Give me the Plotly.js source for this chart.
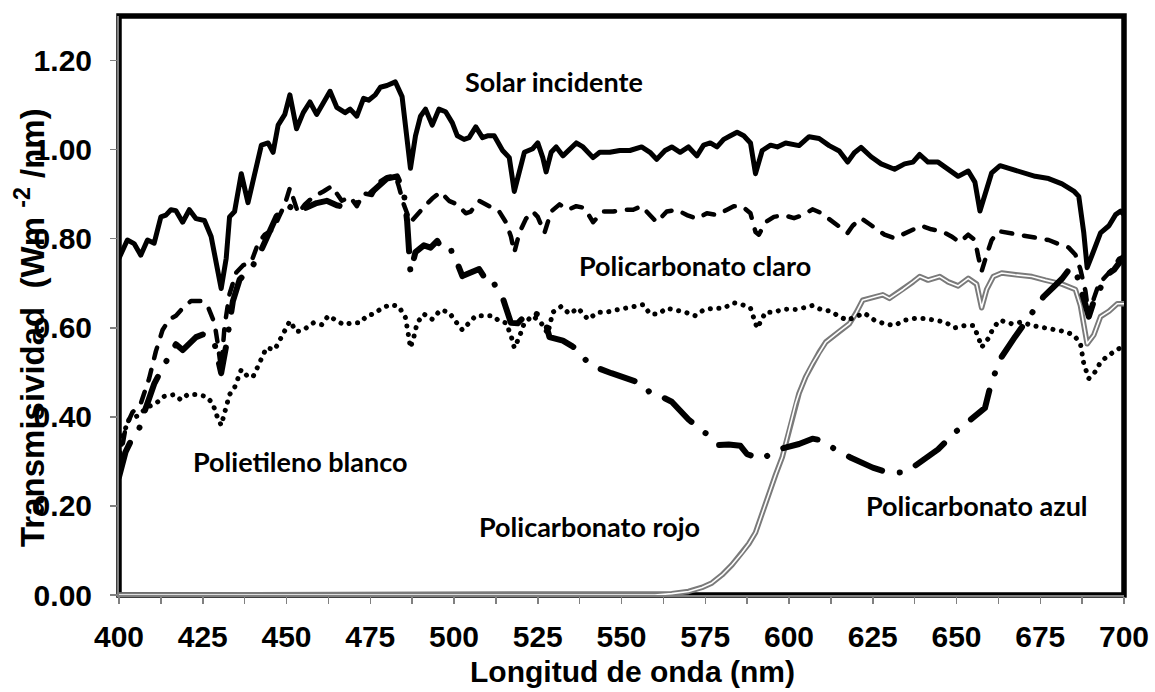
<!DOCTYPE html>
<html>
<head>
<meta charset="utf-8">
<script src="https://cdn.plot.ly/plotly-3.0.1.min.js"></script>
<style>
html,body{margin:0;padding:0;background:#fff;}
#chart{width:1155px;height:692px;}
</style>
</head>
<body>
<div id="chart"></div>
<script>
// ---- Data (wavelength nm, value) ----
const solarWl = [400,402.5,404.5,406.5,408.5,410.5,412.5,414,415.5,417,419,421,423,425.5,427.5,429,430.5,432,433,434.5,436.5,438.5,440.5,442.5,444.5,446,447.5,449.5,451,453,455,457,459,461,463,465,467.5,469,471,473,474.5,476.5,478,480,482.5,484.5,485.5,487,488.5,490,491.5,493.5,495.5,497.5,499.5,501,503,504.5,506.5,508.5,510,512,514.5,516.5,518,519.5,521,523.5,525,526.5,527.5,529,530.5,532.5,534.5,536.5,538.5,541.5,543.5,546.5,549.5,552.5,556,558.5,560.5,563,565,567.5,570,572.5,574.5,576.5,578.5,580.5,582.5,584.5,586.5,588.5,590,592,594.5,596.5,599,603,606,609,612,615,617.5,619.5,621.5,624.5,627.5,631.5,634.5,637,639,641.5,644.5,647.5,650.5,653.5,655.5,657,659,660.5,663,666.5,670.5,673.5,677.5,681.5,685,686.5,688,689,690.5,693,695.5,697.5,699,700];
const solarVal = [0.756,0.797,0.789,0.763,0.797,0.79,0.849,0.853,0.865,0.863,0.837,0.865,0.845,0.841,0.805,0.74,0.688,0.756,0.849,0.861,0.946,0.881,0.942,1.01,1.015,0.994,1.055,1.079,1.123,1.047,1.083,1.107,1.079,1.107,1.131,1.095,1.083,1.091,1.075,1.115,1.111,1.123,1.14,1.144,1.152,1.119,1.063,0.958,1.031,1.075,1.091,1.055,1.091,1.085,1.06,1.031,1.023,1.027,1.051,1.027,1.031,1.031,0.998,0.982,0.906,0.95,0.994,1.002,1.015,0.982,0.95,0.994,1.006,0.986,1.002,1.015,1.006,0.982,0.994,0.994,0.998,0.998,1.006,0.994,0.978,0.998,1.006,0.994,1.006,0.986,1.01,1.015,1.006,1.023,1.031,1.039,1.031,1.015,0.946,0.998,1.01,1.006,1.015,1.009,1.029,1.025,1.009,0.997,0.972,0.993,1.005,0.984,0.968,0.956,0.968,0.972,0.989,0.972,0.972,0.956,0.94,0.952,0.927,0.862,0.911,0.948,0.964,0.956,0.948,0.94,0.935,0.923,0.907,0.895,0.813,0.735,0.764,0.813,0.829,0.854,0.862,0.854];

const claroWl = [400,402,404,406.5,409,411,413,415,417,419,421.5,424.5,426.5,428.5,429.5,430.5,431.5,433,435,437,439.5,441.5,443.5,446,448,449.5,451,453.5,455.5,458,461,463.5,466.5,469,471,473,475.5,477.5,480,482.5,483.5,485,487,489.5,491.5,493.5,496,498.5,501,503.5,505,507.5,509.5,511.5,513.5,515.5,517,518,519.5,521.5,523.5,525,527,529,531.5,534,536.5,539,541.5,544.5,547.5,550.5,553.5,556,558.5,560.5,563.5,566.5,569.5,572.5,575.5,578.5,581.5,583.5,586,588.5,590,591,593,595.5,598.5,601.5,604.5,607,609.5,612.5,615,617.5,619,621.5,624,626.5,628.5,631.5,634,637,639.5,642.5,645.5,648.5,651,653.5,655.5,656.5,657.5,659,660.5,662.5,665.5,668.5,671.5,674.5,677.5,680.5,683.5,685.5,687,688.5,689.5,691,692.5,694.5,697,698.5,700];
const claroVal = [0.29,0.377,0.41,0.43,0.486,0.547,0.595,0.619,0.627,0.644,0.66,0.66,0.648,0.611,0.563,0.506,0.603,0.676,0.724,0.74,0.748,0.789,0.809,0.821,0.853,0.877,0.914,0.857,0.877,0.894,0.906,0.918,0.885,0.894,0.873,0.902,0.898,0.926,0.938,0.942,0.918,0.877,0.837,0.86,0.875,0.89,0.905,0.885,0.877,0.857,0.861,0.885,0.877,0.869,0.861,0.837,0.805,0.769,0.813,0.845,0.861,0.849,0.813,0.861,0.877,0.865,0.873,0.869,0.837,0.861,0.861,0.865,0.865,0.873,0.853,0.837,0.861,0.865,0.853,0.845,0.857,0.853,0.865,0.873,0.873,0.857,0.815,0.809,0.837,0.849,0.853,0.846,0.854,0.866,0.858,0.842,0.829,0.813,0.829,0.846,0.833,0.821,0.809,0.801,0.809,0.821,0.829,0.821,0.817,0.805,0.792,0.809,0.797,0.76,0.727,0.764,0.797,0.817,0.813,0.809,0.806,0.801,0.797,0.788,0.78,0.764,0.731,0.682,0.625,0.666,0.699,0.715,0.735,0.755,0.76];

const blancoWl = [400,401,403,405.5,408.5,411,413.5,416.5,418.5,420.5,423,426,428,429,430.5,432,433,434.5,436.5,438.5,440,441.5,444,446.5,448,449.5,451,453,455,458,460.5,462.5,464.5,467,469.5,472,474,476,478.5,481,483.5,485.5,486.5,487,488,489,491,493.5,496,498.5,500,502.5,504.5,506.5,509,511.5,513.5,515.5,517,518,519.5,521,523.5,526,528,529.5,532,534.5,537,540,543,545.5,548.5,551.5,554,556.5,558.5,561,563.5,566.5,569,572,574.5,577.5,580.5,583.5,586,588.5,589.5,590.5,593,595.5,598.5,602,604.5,607,609.5,612.5,615,617.5,620,622.5,625.5,628.5,631.5,634.5,637.5,640.5,643.5,646.5,649.5,652.5,655,656.5,657.5,659.5,661,663,666.5,669.5,672.5,676,679,682,685,687,688,689.5,691.5,693,695.5,698,700];
const blancoVal = [0.30,0.357,0.394,0.402,0.422,0.43,0.446,0.45,0.438,0.45,0.45,0.446,0.43,0.406,0.381,0.426,0.45,0.466,0.506,0.49,0.49,0.514,0.555,0.551,0.571,0.591,0.615,0.591,0.595,0.611,0.607,0.627,0.619,0.607,0.611,0.611,0.627,0.631,0.644,0.652,0.648,0.623,0.579,0.555,0.579,0.611,0.631,0.619,0.64,0.635,0.619,0.595,0.611,0.627,0.627,0.627,0.615,0.611,0.583,0.555,0.579,0.611,0.627,0.611,0.587,0.635,0.648,0.631,0.644,0.619,0.635,0.635,0.64,0.644,0.648,0.652,0.631,0.631,0.644,0.64,0.635,0.627,0.64,0.644,0.644,0.656,0.652,0.644,0.623,0.599,0.635,0.635,0.642,0.641,0.645,0.65,0.641,0.637,0.625,0.617,0.625,0.633,0.617,0.609,0.605,0.617,0.621,0.621,0.617,0.613,0.6,0.605,0.605,0.58,0.556,0.576,0.6,0.617,0.609,0.613,0.605,0.6,0.596,0.592,0.584,0.564,0.519,0.486,0.502,0.523,0.539,0.551,0.56];

const azulWl = [400,402,404,406,408,410.5,413,415,417,419,421,423,425,427,428.5,429.5,430.5,432,434,436,438,440,442.5,444.5,447,450.5,453,456,459,462,465,468,471,474,477,480,483,485,486,487,488.5,491,493,495,497,499.5,502.5,507.5,509.5,511,512.5,514.5,517,519,521,523,525,527,528.5,532.5,535,537,539,541,547,553.5,556,559,562,565,570,575.5,579,582,585.5,587.5,592,596,599,603,607,610,612,618.5,625,630,635,638.5,644.5,650,655,657,658.5,660.5,663.5,667.5,671.5,676,681.5,684,685.5,687,688.5,689.5,691,693,695,697,699,700];
const azulVal = [0.265,0.322,0.353,0.373,0.42,0.474,0.51,0.535,0.563,0.55,0.565,0.579,0.585,0.58,0.565,0.53,0.498,0.56,0.66,0.708,0.725,0.74,0.775,0.81,0.85,0.875,0.86,0.87,0.88,0.885,0.875,0.87,0.88,0.895,0.915,0.935,0.94,0.905,0.84,0.724,0.77,0.785,0.78,0.795,0.77,0.773,0.716,0.732,0.708,0.712,0.692,0.668,0.611,0.61,0.625,0.635,0.63,0.62,0.579,0.571,0.56,0.55,0.53,0.515,0.498,0.482,0.475,0.45,0.445,0.434,0.394,0.361,0.337,0.338,0.335,0.316,0.305,0.325,0.331,0.339,0.351,0.347,0.335,0.308,0.286,0.274,0.276,0.294,0.327,0.368,0.40,0.41,0.42,0.48,0.535,0.58,0.625,0.67,0.71,0.735,0.73,0.69,0.64,0.625,0.66,0.69,0.72,0.73,0.75,0.76];

const rojoWl = [400,450,500,550,560,565,570,574,577,580,583,586,588,590,592,594,596,598,600,602,603,605,607,609,611,615,618,620,622,626,628,630,634,637,639,641.5,645,647.5,650.5,653.5,656,657.5,659,661,663.5,667.5,672.5,676.5,681.5,685.5,687,689,691,693,695.5,698,700];
const rojoVal = [0,0,0,0,0,0.003,0.008,0.017,0.027,0.045,0.068,0.095,0.115,0.14,0.185,0.225,0.27,0.31,0.37,0.43,0.453,0.49,0.519,0.545,0.568,0.592,0.609,0.633,0.662,0.67,0.674,0.666,0.686,0.703,0.715,0.707,0.715,0.703,0.694,0.711,0.698,0.645,0.686,0.715,0.723,0.719,0.715,0.707,0.698,0.686,0.65,0.564,0.584,0.625,0.637,0.654,0.654];

const seriesLabels = ["Solar incidente","Policarbonato claro","Polietileno blanco","Policarbonato rojo","Policarbonato azul"];
const xTitle = "Longitud de onda (nm)";
const yTitle = "Transmisividad  (Wm <sup>-2</sup> /nm)";

// ---- Figure ----
const labelFont = {family:"Lato, 'Open Sans', sans-serif", size:27, weight:700, color:"#000"};
const axisFont = {family:"'Liberation Sans', Arial, sans-serif", size:30, weight:700, color:"#000"};

const traces = [
  {x:rojoWl, y:rojoVal, mode:"lines", line:{color:"#7a7a7a", width:5.5}, hoverinfo:"skip"},
  {x:rojoWl, y:rojoVal, mode:"lines", line:{color:"#ffffff", width:1.6}, hoverinfo:"skip"},
  {x:blancoWl, y:blancoVal, mode:"lines", line:{color:"#000", width:5, dash:"0.1px,8.5px"}},
  {x:claroWl, y:claroVal, mode:"lines", line:{color:"#000", width:4.5, dash:"11px,12px"}},
  {x:azulWl, y:azulVal, mode:"lines", line:{color:"#000", width:6, dash:"36px,18px,0.1px,18px"}},
  {x:solarWl, y:solarVal, mode:"lines", line:{color:"#000", width:5}}
];

const W = 1155, H = 692;
const M = {l:119, r:31, t:16, b:97};
const PW = W - M.l - M.r, PH = H - M.t - M.b;

const annotations = [
  {x:529.9, y:1.154, text:seriesLabels[0]},
  {x:571.8, y:0.739, text:seriesLabels[1]},
  {x:454.3, y:0.299, text:seriesLabels[2]},
  {x:540.3, y:0.153, text:seriesLabels[3]},
  {x:656.1, y:0.202, text:seriesLabels[4]}
].map(a => Object.assign({xref:"x", yref:"y", showarrow:false, xanchor:"center", yanchor:"middle", font:labelFont}, a));

annotations.push({
  xref:"paper", yref:"paper", x:(632 - M.l)/PW, y:(595 - 671)/PH,
  xanchor:"center", yanchor:"middle", showarrow:false, text:xTitle,
  font:{family:axisFont.family, size:30, weight:700, color:"#000"}
});
annotations.push({
  xref:"paper", yref:"paper", x:(30 - M.l)/PW, y:(595 - 328)/PH,
  xanchor:"center", yanchor:"middle", showarrow:false, textangle:-90, text:yTitle,
  font:{family:axisFont.family, size:33, weight:700, color:"#000"}
});

const layout = {
  width:W, height:H, margin:M,
  paper_bgcolor:"#fff", plot_bgcolor:"#fff",
  showlegend:false,
  xaxis:{
    range:[400,700], tick0:400, dtick:25, ticks:"outside", ticklen:7, tickwidth:1.5, tickcolor:"#808080",
    showline:true, linecolor:"#808080", linewidth:2, showgrid:false, zeroline:false,
    tickfont:axisFont, ticklabelstandoff:7,
    minor:{dtick:12.5, ticks:"outside", ticklen:7, tickwidth:1.5, tickcolor:"#808080", showgrid:false}
  },
  yaxis:{
    range:[0,1.3], tick0:0, dtick:0.2, tickformat:".2f", ticks:"outside", ticklen:7, tickwidth:1.5, tickcolor:"#808080",
    showline:true, linecolor:"#808080", linewidth:2, showgrid:false, zeroline:false,
    tickfont:axisFont, ticklabelstandoff:12
  },
  shapes:[{type:"rect", xref:"paper", yref:"paper", x0:0, x1:1, y0:0, y1:1, line:{color:"#000", width:5.5}, layer:"below"}],
  annotations:annotations
};

Plotly.newPlot("chart", traces, layout, {staticPlot:true, displayModeBar:false}).then(() => {
  document.querySelectorAll("#chart path.js-line").forEach(p => {
    p.style.strokeLinecap = "round";
    p.style.strokeLinejoin = "round";
  });
  // drop empty placeholder title nodes (axis titles are drawn as annotations)
  document.querySelectorAll("#chart text").forEach(t => {
    if (!t.textContent || !t.textContent.trim()) t.remove();
  });
});
</script>
</body>
</html>
